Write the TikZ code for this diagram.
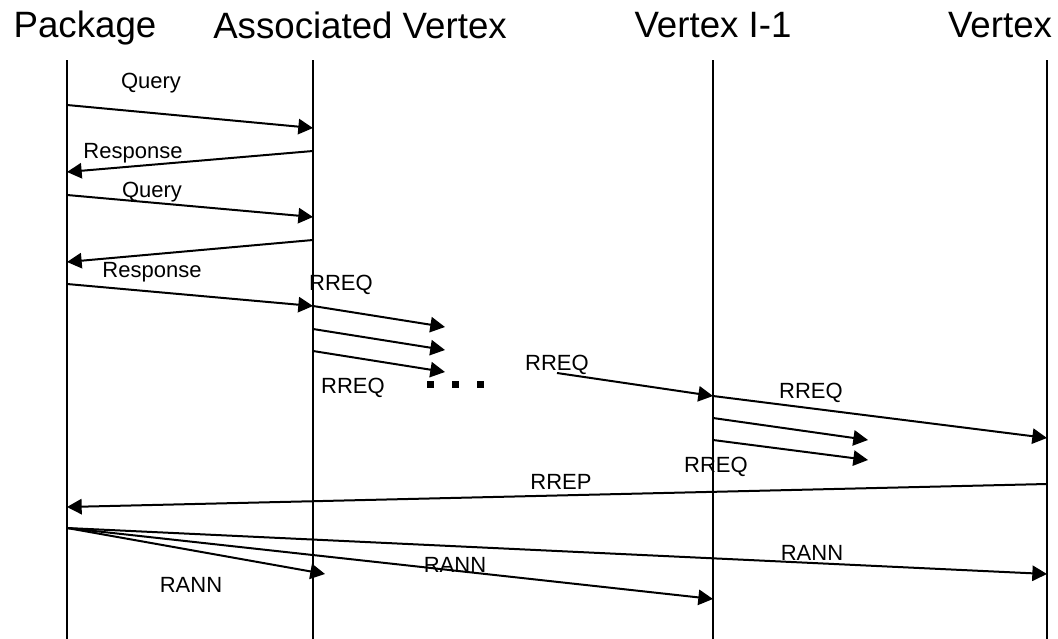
\documentclass[tikz,border=0pt]{standalone}
\usepackage{fontspec}
\setmainfont{Liberation Sans}
\usetikzlibrary{arrows.meta}
\tikzset{>={Triangle[width=11.5pt,length=11pt]}}

\begin{document}
\begin{tikzpicture}[x=0.75pt, y=-0.75pt, head/.style={font=\fontsize{27.5}{32}\selectfont, anchor=base, inner sep=0pt}, tag/.style={font=\fontsize{16.5}{20}\selectfont, anchor=base, inner sep=0pt}, life/.style={line width=1pt}, msg/.style={->, line width=1.5pt}]
    \useasboundingbox (0,0) rectangle (1058,639);
    
    %Nodes
    \node[head](package) at (85,37){Package};
    \node[head](assoc) at (360,38){Associated Vertex};
    \node[head](prev) at (713,37){Vertex I-1};
    \node[head](last) at (1000,37){Vertex};
    
    \node[tag](query_a) at (151,89){Query};
    \node[tag](resp_a) at (133,158){Response};
    \node[tag](query_b) at (152,197){Query};
    \node[tag](resp_b) at (152,277){Response};
    \node[tag](rreq_a) at (341,290){RREQ};
    \node[tag](rreq_b) at (353,393){RREQ};
    \node[tag](rreq_c) at (557,370){RREQ};
    \node[tag](rreq_d) at (811,398){RREQ};
    \node[tag](rreq_e) at (716,472){RREQ};
    \node[tag](rrep) at (561,489){RREP};
    \node[tag](rann_a) at (191,592){RANN};
    \node[tag](rann_b) at (455,572){RANN};
    \node[tag](rann_c) at (812,560){RANN};
    
    %Coordinates
    \coordinate (p_top) at (67,60);  \coordinate (p_bot) at (67,639);
    \coordinate (a_top) at (313,60); \coordinate (a_bot) at (313,639);
    \coordinate (v_top) at (713,60); \coordinate (v_bot) at (713,639);
    \coordinate (l_top) at (1047,60); \coordinate (l_bot) at (1047,639);
    
    \coordinate (p_q1) at (67,105);  \coordinate (a_q1) at (313,128);
    \coordinate (a_r1) at (313,151); \coordinate (p_r1) at (67,172);
    \coordinate (p_q2) at (67,195);  \coordinate (a_q2) at (313,217);
    \coordinate (a_r2) at (313,240); \coordinate (p_r2) at (67,262);
    \coordinate (p_q3) at (67,284);  \coordinate (a_q3) at (313,306);
    \coordinate (a_f1) at (313,329); \coordinate (a_f2) at (313,351);
    \coordinate (end_a) at (445,327); \coordinate (end_b) at (445,350); \coordinate (end_c) at (445,372);
    \coordinate (start_v) at (557,373); \coordinate (v_in) at (713,396);
    \coordinate (v_f1) at (713,418); \coordinate (v_f2) at (713,440);
    \coordinate (end_d) at (868,440); \coordinate (end_e) at (868,460);
    \coordinate (l_req) at (1047,438);
    \coordinate (l_rep) at (1047,484); \coordinate (p_rep) at (67,507);
    \coordinate (p_ann) at (67,528);
    \coordinate (end_ann) at (325,574); \coordinate (v_ann) at (713,599); \coordinate (l_ann) at (1047,574);
    
    %Lines
    \draw[life] (p_top) -- (p_bot);
    \draw[life] (a_top) -- (a_bot);
    \draw[life] (v_top) -- (v_bot);
    \draw[life] (l_top) -- (l_bot);
    
    \draw[msg] (p_q1) -- (a_q1);
    \draw[msg] (a_r1) -- (p_r1);
    \draw[msg] (p_q2) -- (a_q2);
    \draw[msg] (a_r2) -- (p_r2);
    \draw[msg] (p_q3) -- (a_q3);
    \draw[msg] (a_q3) -- (end_a);
    \draw[msg] (a_f1) -- (end_b);
    \draw[msg] (a_f2) -- (end_c);
    \draw[msg] (start_v) -- (v_in);
    \draw[msg] (v_in) -- (l_req);
    \draw[msg] (v_f1) -- (end_d);
    \draw[msg] (v_f2) -- (end_e);
    \draw[msg] (l_rep) -- (p_rep);
    \draw[msg] (p_ann) -- (end_ann);
    \draw[msg] (p_ann) -- (v_ann);
    \draw[msg] (p_ann) -- (l_ann);
    
    %Dots
    \foreach \x in {430,455,480}
        \fill (\x-3.5,381) rectangle (\x+3.5,388);
    
\end{tikzpicture}
\end{document}
